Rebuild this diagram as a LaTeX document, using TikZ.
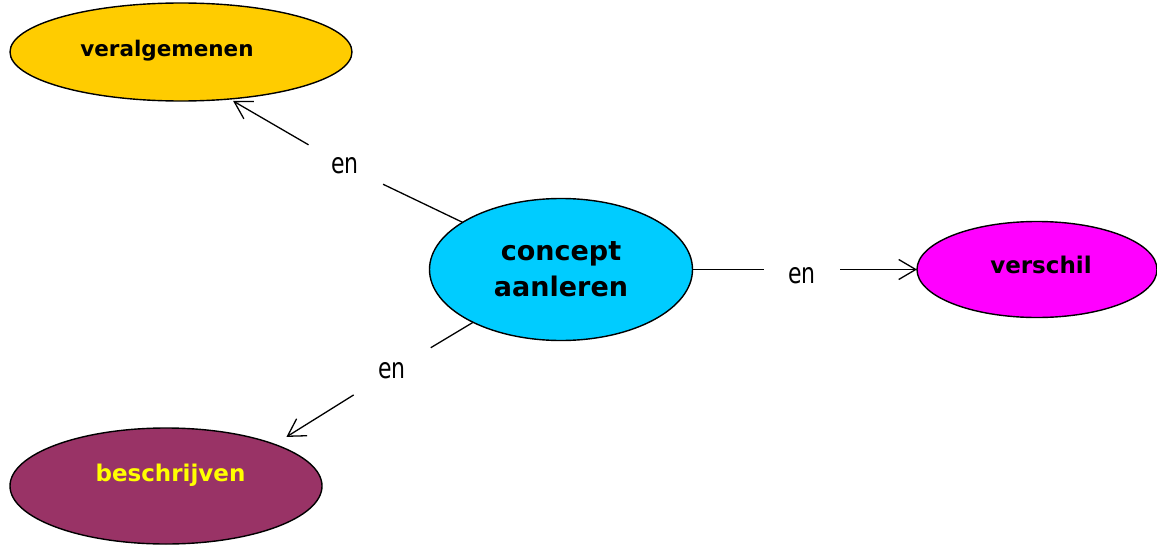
\documentclass[tikz,border=0pt]{standalone}
\usepackage{fontspec}
\setmainfont{DejaVu Sans}
\usetikzlibrary{shapes.geometric,arrows.meta}
\definecolor{cgold}{HTML}{FFCC00}
\definecolor{ccyan}{HTML}{00CCFF}
\definecolor{cmag}{HTML}{FF00FF}
\definecolor{cplum}{HTML}{993366}
\definecolor{cyel}{HTML}{FFFF00}
\newcommand{\enword}{\scalebox{1}[1.3]{en}}
\tikzset{
  concept/.style={ellipse, draw=black, line width=1.4pt, inner sep=0pt, outer sep=0pt},
  ctext/.style={font=\fontsize{23}{27}\selectfont\bfseries, anchor=base, inner sep=0pt},
  linkword/.style={circle, inner sep=0pt, font=\fontsize{22}{26}\selectfont},
  conn/.style={line width=1.3pt, black},
  arr/.style={conn, -{Straight Barb[length=17pt,width=20pt]}},
}
\begin{document}
\begin{tikzpicture}[x=1pt,y=-1pt]
\useasboundingbox (0,0) rectangle (1157,546);
% concepts
\node[concept, fill=ccyan, minimum width=263, minimum height=142,
      font=\fontsize{27}{36}\selectfont\bfseries, align=center] (main) at (561,269.5) {concept\\aanleren};
\node[concept, fill=cgold, minimum width=342, minimum height=98] (gen) at (181,52) {};
\node[ctext, font=\fontsize{21.5}{26}\selectfont\bfseries] (gentext) at (167,56.7) {veralgemenen};
\node[concept, fill=cmag, minimum width=240, minimum height=96] (diff) at (1037,269.5) {};
\node[ctext] (difftext) at (1041,273.3) {verschil};
\node[concept, fill=cplum, minimum width=312, minimum height=116] (desc) at (166,486) {};
\node[ctext, text=cyel] (desctext) at (170.5,481.7) {beschrijven};
% linking words
\node[linkword, minimum size=84pt] (en1) at (345,166) {\enword};
\node[linkword, minimum size=76pt, text height=27.5pt, text depth=0pt] (en2) at (802,269.5) {\enword};
\node[linkword, minimum size=90pt] (en3) at (392,371) {\enword};
% connectors
\draw[conn] (main) -- (en1);
\draw[arr, shorten >=4pt] (en1) -- (gen.-44);
\draw[conn] (main) -- (en2);
\draw[arr] (en2) -- (diff);
\draw[conn] (main) -- (en3);
\draw[arr, shorten >=14pt] (en3) -- (desc.21);
\end{tikzpicture}
\end{document}
